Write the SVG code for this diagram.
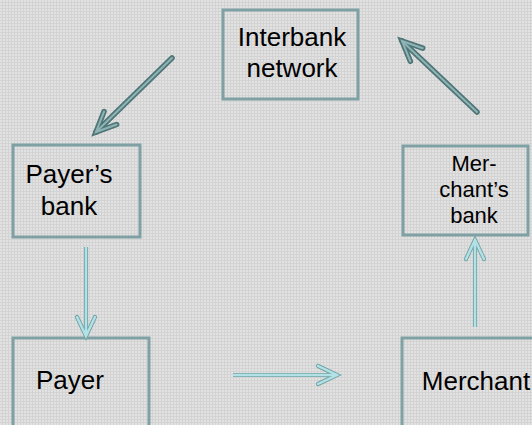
<svg xmlns="http://www.w3.org/2000/svg" width="532" height="425" viewBox="0 0 532 425">
  <defs>
    <!-- fine dotted grey texture for the backdrop -->
    <pattern id="grain" width="3" height="3" patternUnits="userSpaceOnUse">
      <rect width="3" height="3" fill="#e2e2e2"/>
      <rect x="0" y="2" width="3" height="1" fill="#d3d3d3"/>
      <rect x="2" y="0" width="1" height="3" fill="#d3d3d3"/>
    </pattern>
    <!-- open V arrowheads, tip at the path end -->
    <marker id="headLightOuter" viewBox="-24 -12 28 24" markerWidth="28" markerHeight="24" refX="0" refY="0" markerUnits="userSpaceOnUse" orient="auto" overflow="visible">
      <path d="M -19 -9 L 0 0 L -19 9" fill="none" stroke="#72a3a7" stroke-width="4.2" stroke-linecap="round" stroke-linejoin="miter"/>
    </marker>
    <marker id="headLightInner" viewBox="-24 -12 28 24" markerWidth="28" markerHeight="24" refX="0" refY="0" markerUnits="userSpaceOnUse" orient="auto" overflow="visible">
      <path d="M -19 -9 L 0 0 L -19 9" fill="none" stroke="#b3e2e6" stroke-width="2.4" stroke-linecap="round" stroke-linejoin="miter"/>
    </marker>
    <marker id="headDarkOuter" viewBox="-26 -14 30 28" markerWidth="30" markerHeight="28" refX="0" refY="0" markerUnits="userSpaceOnUse" orient="auto" overflow="visible">
      <path d="M -20 -9 L 0 0 L -20 9" fill="none" stroke="#4f7577" stroke-width="5.5" stroke-linecap="round" stroke-linejoin="miter"/>
    </marker>
    <marker id="headDarkInner" viewBox="-26 -14 30 28" markerWidth="30" markerHeight="28" refX="0" refY="0" markerUnits="userSpaceOnUse" orient="auto" overflow="visible">
      <path d="M -20 -9 L 0 0 L -20 9" fill="none" stroke="#8fb4b6" stroke-width="2" stroke-linecap="round" stroke-linejoin="miter"/>
    </marker>
  </defs>
  <style>
    .box { fill: none; stroke: #7fa1a4; stroke-width: 3; }
    .label { font-family: "Liberation Sans", Arial, sans-serif; font-size: 26px; fill: #000; text-anchor: middle; }
    .tight { font-size: 22px; }
    .lightOuter { stroke: #72a3a7; stroke-width: 4.2; fill: none; marker-end: url(#headLightOuter); }
    .lightInner { stroke: #b3e2e6; stroke-width: 2.4; fill: none; marker-end: url(#headLightInner); }
    .darkOuter { stroke: #4f7577; stroke-width: 5.5; fill: none; stroke-linecap: round; marker-end: url(#headDarkOuter); }
    .darkInner { stroke: #8fb4b6; stroke-width: 2; fill: none; stroke-linecap: round; marker-end: url(#headDarkInner); }
  </style>

  <rect width="532" height="425" fill="url(#grain)"/>

  <g id="interbank-network">
    <rect class="box" x="223" y="10" width="135" height="89"/>
    <text class="label" x="292" y="46">Interbank</text>
    <text class="label" x="292" y="77">network</text>
  </g>

  <g id="payers-bank">
    <rect class="box" x="13" y="145" width="127" height="92"/>
    <text class="label" x="69" y="183">Payer’s</text>
    <text class="label" x="69" y="215">bank</text>
  </g>

  <g id="merchants-bank">
    <rect class="box" x="403" y="146" width="125" height="89"/>
    <text class="label tight" x="474" y="171">Mer-</text>
    <text class="label tight" x="474" y="197">chant’s</text>
    <text class="label tight" x="474" y="223">bank</text>
  </g>

  <g id="payer">
    <rect class="box" x="13" y="338" width="136" height="100"/>
    <text class="label" x="70" y="389">Payer</text>
  </g>

  <g id="merchant">
    <rect class="box" x="402" y="338" width="140" height="100"/>
    <text class="label" x="476" y="390">Merchant</text>
  </g>

  <g id="connectors">
    <!-- Interbank network to payer's bank -->
    <line class="darkOuter" x1="172" y1="58" x2="96" y2="132"/>
    <line class="darkInner" x1="172" y1="58" x2="96" y2="132"/>
    <!-- merchant's bank to interbank network -->
    <line class="darkOuter" x1="477" y1="112" x2="402" y2="41"/>
    <line class="darkInner" x1="477" y1="112" x2="402" y2="41"/>
    <!-- payer's bank to payer -->
    <line class="lightOuter" x1="86" y1="247" x2="86" y2="336"/>
    <line class="lightInner" x1="86" y1="247" x2="86" y2="336"/>
    <!-- payer to merchant -->
    <line class="lightOuter" x1="233" y1="375" x2="337" y2="375"/>
    <line class="lightInner" x1="233" y1="375" x2="337" y2="375"/>
    <!-- merchant to merchant's bank -->
    <line class="lightOuter" x1="475" y1="327" x2="475" y2="240"/>
    <line class="lightInner" x1="475" y1="327" x2="475" y2="240"/>
  </g>
</svg>
